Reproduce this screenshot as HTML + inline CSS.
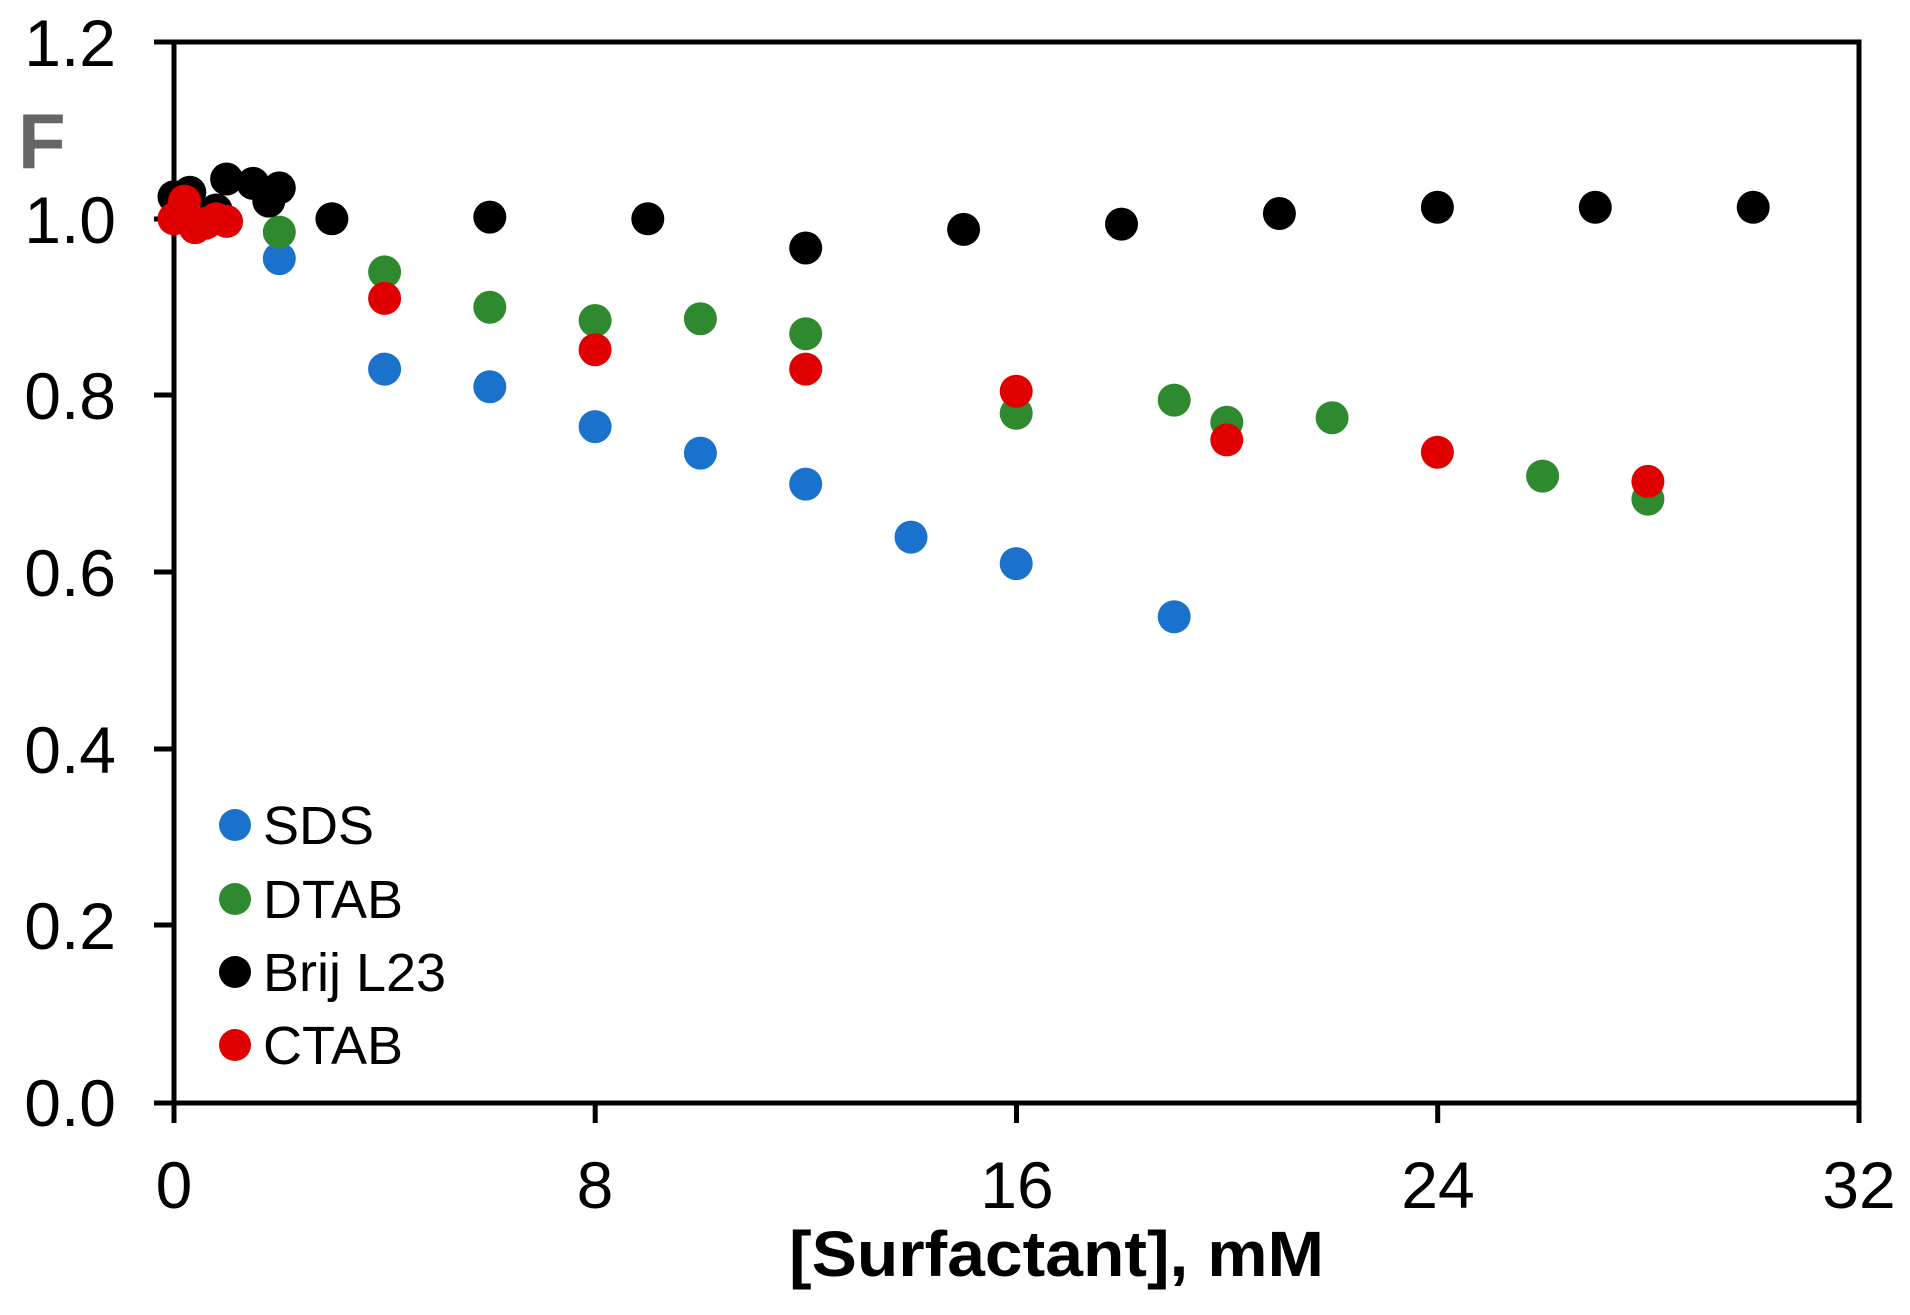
<!DOCTYPE html>
<html><head><meta charset="utf-8"><style>html,body{margin:0;padding:0;background:#fff}svg{display:block}</style></head>
<body>
<svg width="1910" height="1315" viewBox="0 0 1910 1315" xmlns="http://www.w3.org/2000/svg" font-family="Liberation Sans, sans-serif">
<rect width="1910" height="1315" fill="#fff"/>
<g stroke="#000" stroke-width="5" fill="none">
<rect x="174" y="42" width="1685" height="1061"/>
<path d="M154 42H174M154 219H174M154 395H174M154 572H174M154 749H174M154 925H174M154 1103H174"/>
<path d="M174 1103V1123M595.2 1103V1123M1016.5 1103V1123M1437.7 1103V1123M1859 1103V1123"/>
</g>
<g font-size="66" text-anchor="end" fill="#000">
<text x="116" y="66">1.2</text><text x="116" y="243">1.0</text><text x="116" y="419">0.8</text>
<text x="116" y="596">0.6</text><text x="116" y="773">0.4</text><text x="116" y="949">0.2</text><text x="116" y="1126">0.0</text>
</g>
<g font-size="66" text-anchor="middle" fill="#000">
<text x="174" y="1208">0</text><text x="595" y="1208">8</text><text x="1017" y="1208">16</text><text x="1438" y="1208">24</text><text x="1859" y="1208">32</text>
</g>
<text x="789" y="1276" font-size="64" font-weight="bold" textLength="535" lengthAdjust="spacingAndGlyphs">[Surfactant], mM</text>
<text x="18" y="168" font-size="78" font-weight="bold" fill="#666">F</text>
<g fill="#1b72cc">
<circle cx="279.3" cy="258.6" r="16.5"/><circle cx="384.6" cy="369.1" r="16.5"/><circle cx="489.8" cy="386.8" r="16.5"/>
<circle cx="595.1" cy="426.6" r="16.5"/><circle cx="700.4" cy="453.1" r="16.5"/><circle cx="805.7" cy="484.1" r="16.5"/>
<circle cx="911.0" cy="537.1" r="16.5"/><circle cx="1016.2" cy="563.6" r="16.5"/><circle cx="1174.2" cy="616.7" r="16.5"/>
</g>
<g fill="#2f8a2f">
<circle cx="279.3" cy="232.1" r="16.5"/><circle cx="384.6" cy="271.9" r="16.5"/><circle cx="489.8" cy="307.2" r="16.5"/>
<circle cx="595.1" cy="320.5" r="16.5"/><circle cx="700.4" cy="318.7" r="16.5"/><circle cx="805.7" cy="333.7" r="16.5"/>
<circle cx="1016.2" cy="413.3" r="16.5"/><circle cx="1174.2" cy="400.1" r="16.5"/><circle cx="1226.8" cy="422.2" r="16.5"/>
<circle cx="1332.1" cy="417.7" r="16.5"/><circle cx="1542.6" cy="476.1" r="16.5"/><circle cx="1647.9" cy="499.1" r="16.5"/>
</g>
<g fill="#000">
<circle cx="174" cy="196.7" r="16.5"/><circle cx="189.8" cy="192.3" r="16.5"/><circle cx="216.1" cy="210" r="16.5"/>
<circle cx="226.6" cy="179" r="16.5"/><circle cx="253" cy="183.4" r="16.5"/><circle cx="268.8" cy="201.1" r="16.5"/>
<circle cx="279.3" cy="187.9" r="16.5"/><circle cx="331.9" cy="218.8" r="16.5"/><circle cx="489.8" cy="217.1" r="16.5"/>
<circle cx="647.8" cy="218.8" r="16.5"/><circle cx="805.7" cy="248" r="16.5"/><circle cx="963.6" cy="229.4" r="16.5"/>
<circle cx="1121.5" cy="224.1" r="16.5"/><circle cx="1279.4" cy="213.5" r="16.5"/><circle cx="1437.4" cy="207.3" r="16.5"/>
<circle cx="1595.3" cy="207.3" r="16.5"/><circle cx="1753.2" cy="207.3" r="16.5"/>
</g>
<g fill="#e00000">
<circle cx="174" cy="218.8" r="16.5"/><circle cx="184.5" cy="201.1" r="16.5"/><circle cx="195.1" cy="227.6" r="16.5"/>
<circle cx="205.6" cy="223.2" r="16.5"/><circle cx="216.1" cy="218.8" r="16.5"/><circle cx="226.6" cy="221.4" r="16.5"/>
<circle cx="384.6" cy="298.4" r="16.5"/><circle cx="595.1" cy="349.7" r="16.5"/><circle cx="805.7" cy="369.1" r="16.5"/>
<circle cx="1016.2" cy="391.2" r="16.5"/><circle cx="1226.8" cy="439.9" r="16.5"/><circle cx="1437.4" cy="452.2" r="16.5"/>
<circle cx="1647.9" cy="481.4" r="16.5"/>
</g>
<g font-size="54" fill="#000">
<circle cx="235" cy="825" r="16" fill="#1b72cc"/><text x="263" y="844">SDS</text>
<circle cx="235" cy="899" r="16" fill="#2f8a2f"/><text x="263" y="918">DTAB</text>
<circle cx="235" cy="972" r="16" fill="#000"/><text x="263" y="991">Brij L23</text>
<circle cx="235" cy="1045" r="16" fill="#e00000"/><text x="263" y="1064">CTAB</text>
</g>
</svg>
</body></html>
